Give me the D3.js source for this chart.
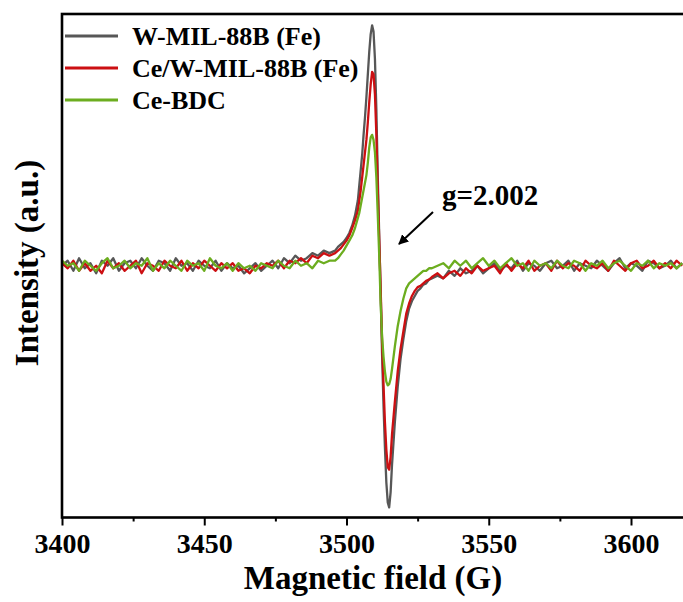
<!DOCTYPE html>
<html>
<head>
<meta charset="utf-8">
<script src="https://cdn.jsdelivr.net/npm/d3@7"></script>
<style>
  html, body { margin: 0; padding: 0; background: #fff; }
  svg { display: block; }
  text { font-family: "Liberation Serif", "Times New Roman", serif; font-weight: bold; fill: #000; }
</style>
</head>
<body>
<svg id="chart" width="683" height="602"></svg>
<script>
// Magnetic field (G)
const field = [
  3400,3402,3404,3406,3408,3410,3412,3414,3416,3418,3420,3422,3424,3426,3428,3430,3432,3434,3436,3438,
  3440,3442,3444,3446,3448,3450,3452,3454,3456,3458,3460,3462,3464,3466,3468,3470,3472,3474,3476,3478,
  3480,3482,3484,3486,3488,3490,3492,3494,
  3496,3497,3498,3499,3500,3501,3502,3503,3504,
  3504.5,3505,3505.5,3506,3506.5,3507,3507.5,3508,3508.5,3509,3509.5,3510,3510.5,3511,3511.5,3512,
  3512.5,3513,3513.5,3514,3514.5,3515,3515.5,3516,
  3517,3518,3519,3520,3521,3522,3523,3524,3525,3526,3527,3528,3529,3530,
  3532,3534,3536,3538,3540,3542,3544,3546,3548,3550,3552,3554,3556,3558,3560,3562,3564,3566,3568,3570,
  3572,3574,3576,3578,3580,3582,3584,3586,3588,3590,3592,3594,3596,3598,3600,3602,3604,3606,3608,3610,
  3612,3614,3616,3618
];

const seriesNames = ["W-MIL-88B (Fe)", "Ce/W-MIL-88B (Fe)", "Ce-BDC"];

const wMil = [
  0.00,0.02,-0.02,0.03,-0.01,0.01,-0.03,0.02,0.00,0.03,
  -0.02,0.01,0.02,-0.01,0.03,0.00,-0.02,0.02,0.01,-0.02,
  0.03,0.00,0.01,-0.02,0.02,0.00,-0.01,0.02,-0.02,0.01,
  -0.01,0.00,-0.03,-0.01,0.01,-0.02,0.00,0.02,-0.01,0.03,
  0.01,0.04,0.02,0.03,0.05,0.04,0.06,0.05,
  0.06,0.075,0.085,0.095,0.11,0.13,0.16,0.20,0.26,
  0.32,0.38,0.44,0.52,0.59,0.67,0.76,0.85,0.92,0.955,
  0.93,0.82,0.62,0.35,0.12,-0.10,-0.35,-0.55,-0.72,-0.86,
  -0.94,-0.96,-0.90,-0.79,
  -0.62,-0.48,-0.37,-0.29,-0.22,-0.17,-0.14,-0.12,-0.10,-0.09,-0.075,-0.07,-0.055,-0.05,
  -0.04,-0.05,-0.02,-0.04,-0.01,-0.03,-0.02,0.00,-0.03,-0.01,
  0.01,-0.02,0.00,-0.01,0.02,-0.02,0.01,0.00,-0.02,0.01,
  0.02,-0.01,0.00,0.02,-0.02,0.01,0.00,-0.01,0.02,0.00,
  -0.02,0.01,0.03,-0.01,0.01,0.00,-0.02,0.02,0.01,-0.01,
  0.00,0.02,-0.01,0.01
];

const ceWMil = [
  0.01,-0.01,0.02,-0.02,0.01,-0.02,0.00,-0.03,0.02,-0.01,
  0.01,-0.02,0.00,0.02,-0.03,0.01,0.00,-0.02,0.02,0.00,
  -0.01,0.02,-0.02,0.01,-0.01,0.02,0.00,-0.02,0.01,-0.01,
  0.01,-0.02,-0.01,-0.03,0.00,-0.01,0.01,0.00,0.02,-0.01,
  0.02,0.01,0.03,0.01,0.04,0.03,0.05,0.04,
  0.05,0.06,0.07,0.085,0.10,0.12,0.15,0.18,0.22,
  0.26,0.30,0.35,0.40,0.45,0.50,0.57,0.65,0.72,0.77,
  0.76,0.68,0.52,0.30,0.10,-0.09,-0.30,-0.47,-0.62,-0.73,
  -0.80,-0.81,-0.76,-0.67,
  -0.54,-0.42,-0.33,-0.26,-0.19,-0.15,-0.12,-0.10,-0.085,-0.08,-0.07,-0.06,-0.055,-0.045,
  -0.03,-0.05,-0.03,-0.02,-0.04,-0.01,-0.03,0.00,-0.02,-0.01,
  0.00,-0.03,0.01,-0.02,0.01,-0.01,0.02,-0.02,0.00,0.01,
  -0.02,0.02,-0.01,0.01,0.00,-0.02,0.02,0.00,-0.01,0.01,
  -0.02,0.02,0.00,-0.02,0.01,0.02,-0.01,0.00,0.02,-0.01,
  0.01,-0.01,0.02,0.00
];

const ceBdc = [
  0.02,0.00,0.01,-0.02,0.02,0.00,-0.02,0.01,0.03,-0.01,
  0.00,0.02,-0.01,0.01,0.00,0.03,-0.02,0.01,-0.01,0.02,
  0.00,-0.02,0.02,0.00,0.01,-0.02,0.03,0.00,-0.01,0.01,
  -0.02,0.01,-0.01,0.00,-0.02,0.01,0.00,-0.01,0.02,0.00,
  -0.01,0.02,0.00,0.01,-0.01,0.02,0.01,0.02,
  0.02,0.03,0.045,0.06,0.08,0.10,0.12,0.15,0.19,
  0.21,0.24,0.27,0.30,0.33,0.36,0.41,0.47,0.51,0.52,
  0.50,0.45,0.35,0.20,0.04,-0.15,-0.28,-0.36,-0.42,-0.46,
  -0.475,-0.47,-0.45,-0.41,
  -0.32,-0.24,-0.18,-0.13,-0.09,-0.07,-0.06,-0.05,-0.04,-0.03,-0.02,-0.02,-0.01,-0.01,
  0.00,0.01,-0.01,0.02,0.00,0.02,-0.01,0.01,0.03,0.00,
  0.02,-0.01,0.01,0.03,0.00,0.01,-0.02,0.02,0.00,0.01,
  -0.01,0.02,0.00,-0.01,0.02,0.01,-0.02,0.01,0.00,0.02,
  -0.01,0.01,0.02,0.00,-0.02,0.01,0.00,0.02,-0.01,0.01,
  0.00,0.01,-0.01,0.01
];

const xMajorTicks = [3400, 3450, 3500, 3550, 3600];
const xMinorTicks = [3425, 3475, 3525, 3575];
const annotationText = "g=2.002";
const xTitle = "Magnetic field (G)";
const yTitle = "Intensity (a.u.)";

// ---- drawing ----
const svg = d3.select("#chart");
const padLeft = 62, padTop = 14, padBottom = 517.5, padRight = 690;
const colors = ["#575757", "#cc0f12", "#6cad1f"];

const x = d3.scaleLinear().domain([3400, 3600]).range([padLeft, 631]);
const y = d3.scaleLinear().domain([-1, 1]).range([padBottom, padTop]);

const defs = svg.append("defs");
defs.append("clipPath").attr("id", "clip")
  .append("rect").attr("x", padLeft).attr("y", padTop).attr("width", padRight - padLeft).attr("height", padBottom - padTop);

const line = d3.line().x(d => x(d[0])).y(d => y(d[1]));
const allSeries = [wMil, ceWMil, ceBdc];

const g = svg.append("g").attr("clip-path", "url(#clip)");
allSeries.forEach((vals, i) => {
  g.append("path")
    .datum(field.map((f, k) => [f, vals[k]]))
    .attr("d", line)
    .attr("fill", "none")
    .attr("stroke", colors[i])
    .attr("stroke-width", 2.3)
    .attr("stroke-linejoin", "round");
});

// frame
svg.append("rect").attr("x", padLeft).attr("y", padTop).attr("width", padRight - padLeft).attr("height", padBottom - padTop)
  .attr("fill", "none").attr("stroke", "#000").attr("stroke-width", 2.6);

// x axis ticks
const axisG = svg.append("g").attr("transform", `translate(0,${padBottom})`);
const xAxis = d3.axisBottom(x).tickValues(xMajorTicks).tickSize(8).tickPadding(8).tickFormat(d3.format("d"));
axisG.call(xAxis);
axisG.select(".domain").remove();
axisG.selectAll(".tick line").attr("stroke", "#000").attr("stroke-width", 2);
axisG.selectAll(".tick text").style("font-size", "28px").style("font-family", '"Liberation Serif", "Times New Roman", serif').style("font-weight", "bold").attr("fill", "#000");
const minorG = svg.append("g").attr("transform", `translate(0,${padBottom})`);
minorG.call(d3.axisBottom(x).tickValues(xMinorTicks).tickSize(4).tickFormat(""));
minorG.select(".domain").remove();
minorG.selectAll(".tick line").attr("stroke", "#000").attr("stroke-width", 2);

// titles
svg.append("text").attr("x", 373).attr("y", 589).attr("text-anchor", "middle")
  .style("font-size", "33px").text(xTitle);
svg.append("text").attr("transform", "translate(38,263) rotate(-90)").attr("text-anchor", "middle")
  .style("font-size", "33px").text(yTitle);

// legend
seriesNames.forEach((name, i) => {
  const ly = 36 + i * 32;
  svg.append("line").attr("x1", 65).attr("x2", 118).attr("y1", ly).attr("y2", ly)
    .attr("stroke", colors[i]).attr("stroke-width", 3);
  svg.append("text").attr("x", 132).attr("y", ly + 9).style("font-size", "26px").text(name);
});

// annotation
defs.append("marker").attr("id", "arrow").attr("viewBox", "0 0 10 10")
  .attr("refX", 9).attr("refY", 5).attr("markerWidth", 5).attr("markerHeight", 5).attr("orient", "auto")
  .append("path").attr("d", "M0,0 L10,5 L0,10 Z").attr("fill", "#000");
svg.append("line").attr("x1", 433).attr("y1", 212).attr("x2", 399).attr("y2", 244)
  .attr("stroke", "#000").attr("stroke-width", 2).attr("marker-end", "url(#arrow)");
svg.append("text").attr("x", 442).attr("y", 205).style("font-size", "29px").text(annotationText);
</script>
</body>
</html>
